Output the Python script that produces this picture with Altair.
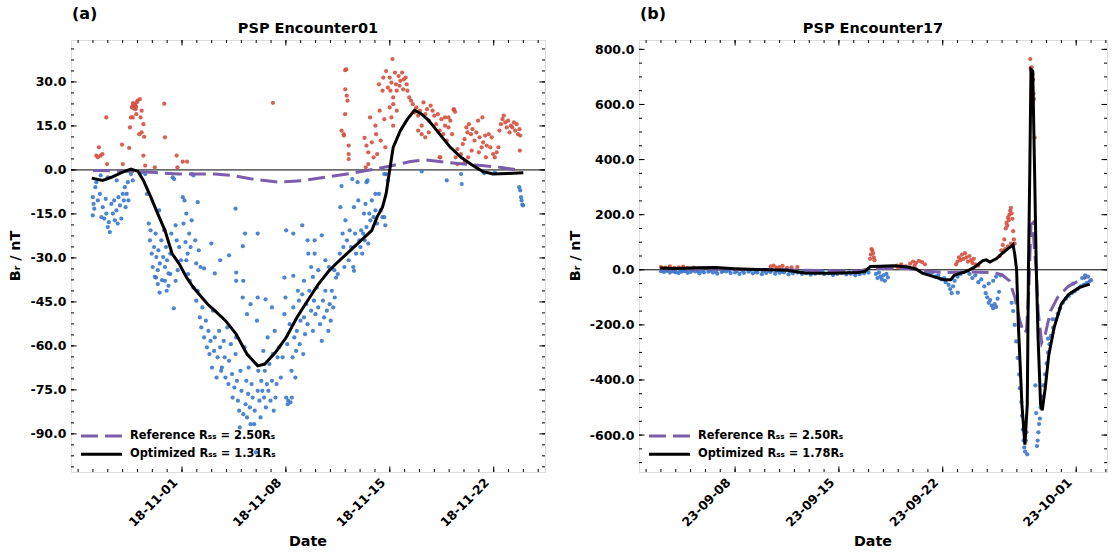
import altair as alt
import numpy as np
import pandas as pd

# ---------------- panel (a): PSP Encounter01, days relative to 2018-11-01 ----------------
A_BASE = "2018-11-01"
a_pos_day = [-5.77, -5.6, -5.48, -5.67, -5.36, -5.1, -5.05,
             -4.04, -3.99, -3.56, -3.51, -3.44, -3.37, -3.27, -3.2, -3.13, -3.08, -2.99, -2.84, -2.79,
             -2.72, -2.72, -2.88, -2.6, -2.55, -2.6, -2.48, -3.32, -3.35, -3.3, -3.25, -3.15, -3.1, -3.05,
             -1.83, -1.2, -1.15, -0.36, -0.31, 0.05, 0.34, 6.13,
             10.75, 10.91, 11.0, 11.06, 11.0, 11.1, 11.15, 10.99, 11.23, 11.23, 11.23, 10.9,
             12.3, 12.43, 12.55, 12.67, 12.79, 12.91, 13.03, 13.08, 13.15, 13.27, 13.32, 13.39, 13.51,
             13.56, 13.63, 13.7, 13.75, 12.38, 12.55,
             13.87, 13.99, 14.04, 14.11, 14.18, 14.23, 14.35, 14.42, 14.47, 14.59, 14.66, 14.71, 14.83,
             14.9, 14.95, 15.07, 15.14, 15.19, 15.31, 15.43, 14.23, 14.47, 13.99, 14.11, 14.23,
             15.55, 15.67, 15.79, 15.91, 16.03, 16.15, 16.27, 16.39, 16.51, 16.63, 16.75, 16.88, 17.0,
             17.12, 17.24, 17.36, 17.48, 17.6, 17.72, 17.84, 17.96, 18.08, 18.2, 18.32, 18.44, 18.56,
             17.4, 16.15, 15.91, 16.39, 16.63, 17.72, 17.96,
             18.8, 18.92, 19.04, 19.16, 19.23, 19.33, 19.47, 19.57, 19.71, 19.83, 19.95, 20.05, 20.19,
             20.29, 20.43, 20.53, 20.67, 20.77, 20.87, 20.96, 21.08, 21.2, 21.32, 21.39, 21.49, 21.59,
             21.68, 21.78, 21.88, 21.97, 22.07, 22.16, 22.26, 22.36, 22.45, 22.55, 22.64, 22.74, 22.79,
             22.76, 19.52, 20.0, 20.48, 19.28, 18.56, 19.04, 20.24, 17.36, 18.3, 18.4]
a_pos_val = [4.9, 7.7, 4.9, 4.3, 5.4, 17.9, 2.0,
             8.6, 2.0, 7.5, 14.5, 17.9, 21.3, 22.4, 21.8, 20.7, 19.0, 23.6, 24.1, 17.9,
             20.2, 12.8, 12.2, 15.6, 11.3, 4.9, 1.5, 17.9, 21.5, 22.8, 21.0, 22.0, 21.5, 23.0,
             0.9, 22.6, 11.1, 4.9, 0.9, 2.8, 2.8, 22.9,
             13.4, 11.7, 34.0, 34.3, 27.5, 25.3, 23.6, 19.0, 8.3, 5.4, 3.7, 12.2,
             10.9, 8.3, 6.0, 17.9, 9.4, 4.3, 15.1, 12.2, 5.4, 29.2, 20.2, 10.0, 27.0,
             31.5, 17.3, 7.7, 33.7, 0.9, 2.0,
             28.1, 31.5, 27.0, 29.8, 37.8, 24.7, 33.2, 29.2, 27.0, 32.0, 28.7, 30.4, 33.2,
             27.5, 30.9, 31.5, 29.2, 27.0, 24.7, 23.6, 22.4, 20.2, 21.3, 17.9, 15.1,
             22.4, 19.6, 21.3, 18.5, 20.2, 15.1, 23.0, 19.0, 20.7, 16.8, 21.9, 20.2, 18.5,
             15.6, 19.0, 13.4, 17.3, 12.2, 17.9, 10.0, 14.5, 16.8, 12.2, 20.7, 4.3, 7.1,
             4.3, 12.2, 13.4, 11.1, 12.8, 15.1, 17.9,
             5.4, 8.8, 10.5, 14.5, 12.8, 15.6, 12.2, 13.9, 10.0, 12.8, 16.8, 11.1, 7.7,
             9.4, 11.7, 8.3, 12.2, 7.7, 11.1, 5.4, 4.3, 6.0, 7.7, 13.4, 15.6, 17.3,
             18.5, 16.2, 14.5, 16.8, 12.8, 15.1, 14.5, 16.2, 13.4, 15.6, 12.2, 13.9, 11.7,
             6.6, 6.6, 6.0, 4.3, 4.3, 2.0, 2.6, 17.9, 4.3, 20.5, 19.8]
a_neg_day = [-6.01, -5.96, -5.91, -6.01, -5.84, -5.77, -5.67, -5.53, -5.43, -5.34, -5.24, -5.14, -5.1,
             -5.0, -4.93, -4.86, -4.76, -4.66, -4.57, -4.52, -4.42, -4.33, -4.28, -4.18, -4.09, -3.99,
             -3.92, -3.85, -3.8, -3.73, -3.65, -3.61, -5.0, -5.48, -4.4, -3.44, -3.32, -2.72, -2.48,
             -2.36, -2.24, -2.16, -2.12, -2.04, -1.97, -1.88, -1.83, -1.78, -1.73, -1.63, -1.59, -1.54,
             -1.49, -1.39, -1.35, -1.27, -1.2, -1.15, -1.08, -1.01, -0.91, -0.79, -0.72, -0.63, -0.53,
             -0.43, -0.36, -0.29, -0.19, -0.07, 0.05, 0.1, 0.17, 0.24, 0.29, 0.38, 0.48, 0.58, 0.67,
             0.77, 0.89, 0.96, 1.06, 1.13, 1.25, 1.49, 1.97, 2.57, 3.17, 3.61, 2.21, 0.29, 0.65,
             -1.75, -1.63, -1.51, -1.15, -1.03, -0.91, -0.55, -0.43, -0.79,
             0.41, 0.53, 0.77, 0.96, 1.06, 1.2, 1.3, 1.37, 1.49, 1.61, 1.68, 1.78, 1.85, 1.92, 2.02,
             2.09, 2.16, 2.21, 2.33, 2.4, 2.5, 2.57, 2.64, 2.69, 2.81, 2.88, 2.93, 3.05, 3.13, 3.17,
             3.29, 3.37, 3.41, 3.53, 3.61, 3.65, 3.7, 3.77, 3.85, 3.89, 3.94, 4.01, 4.09, 4.13, 4.21,
             4.28, 4.33, 4.38, 4.45, 4.49, 4.57, 4.62, 4.69, 4.76, 4.86, 4.9, 4.98, 5.05, 5.1, 5.14,
             5.22, 5.29, 5.34, 5.41, 5.48, 5.53, 5.58, 5.65, 5.72, 5.77, 5.82, 5.89, 5.96, 6.06, 6.13,
             6.18, 6.25, 6.3, 6.37, 6.44, 6.54, 4.62, 4.38, 5.1, 5.63, 6.06, 3.65, 4.13,
             6.66, 6.78, 6.9, 6.97, 7.02, 7.09, 7.16, 7.26, 7.31, 7.38, 7.45, 7.5, 7.57, 7.64, 7.69,
             7.74, 7.81, 7.88, 7.93, 7.98, 8.1, 8.17, 8.22, 8.29, 8.37, 8.46, 8.58, 8.7, 8.82, 8.89,
             8.99, 9.09, 9.18, 9.3, 9.42, 9.5, 9.57, 9.66, 9.76, 9.86, 9.95, 10.02, 10.1, 10.19, 10.29,
             10.38, 10.5, 11.59, 6.9, 7.5, 8.22, 7.12, 7.4,
             7.02, 7.5, 8.1, 8.46, 8.51, 8.7, 8.82, 8.94, 9.18, 9.66, 9.9, 10.26, 10.63, 10.67, 10.75,
             10.82, 10.87, 10.94, 11.01, 11.11, 11.23, 11.3, 11.39, 11.47, 11.54, 11.59, 11.66, 11.73,
             11.83, 11.88, 11.95, 12.02, 12.07, 12.14, 12.21, 12.26, 12.31, 12.36, 12.43, 12.5, 12.55,
             12.62, 12.69, 12.79, 12.91, 13.03, 13.15, 13.27, 13.39, 13.51, 13.63, 13.7, 13.75, 13.03,
             12.43, 9.42, 8.94, 16.15, 17.84, 18.8, 18.85, 20.36, 21.08, 22.72, 22.79, 22.84, 22.88,
             22.93, 22.98, 13.87, 13.63, 3.65, 4.25, 5.1, 4.1]
a_neg_val = [-9.3, -11.6, -13.2, -15.5, -5.9, -4.2, -10.4, -8.2, -16.1, -12.7, -16.6, -9.9, -14.9,
             -19.5, -17.8, -21.2, -11.6, -14.9, -10.4, -17.2, -13.8, -18.3, -9.3, -12.1, -16.6, -8.2,
             -10.4, -5.9, -12.7, -8.2, -4.2, -10.4, -2.5, -1.9, -3.6, -1.4, -3.6, -0.8, -1.4,
             -8.2, -18.3, -24.0, -20.6, -28.5, -33.1, -26.3, -36.5, -21.7, -29.7, -34.2, -27.4, -13.8,
             -31.9, -24.0, -37.6, -29.7, -20.6, -33.1, -26.3, -30.8, -35.3, -28.5, -21.7, -2.5, -3.1,
             -18.9, -24.0, -34.2, -26.3, -30.8, -9.3, -18.3, -10.4, -24.6, -30.8, -28.5, -21.7, -26.3, -1.4,
             -1.9, -24.0, -31.9, -11.0, -27.4, -33.1, -33.6, -25.1, -30.8, -29.1, -13.2, -35.3, -14.9, -17.2,
             -36.7, -38.9, -41.8, -37.8, -41.2, -39.5, -47.2, -37.8, -35.5,
             -35.5, -37.8, -40.1, -44.6, -41.2, -50.3, -53.7, -46.9, -57.1, -51.4, -60.5, -54.9, -62.8, -58.3, -67.4,
             -48.0, -61.7, -57.1, -70.8, -63.9, -54.9, -60.5, -68.5, -67.4, -58.3, -63.9, -70.8, -53.7, -73.0, -65.1,
             -59.4, -69.6, -77.6, -74.2, -62.8, -57.1, -71.9, -78.7, -82.1, -87.8, -68.5, -75.3, -43.5, -83.3, -60.5,
             -79.9, -71.9, -84.4, -76.4, -67.4, -81.0, -86.7, -73.0, -77.6, -86.7, -82.1, -96.3, -51.4, -75.3, -68.5,
             -78.7, -84.4, -71.9, -75.3, -61.7, -77.6, -68.5, -81.0, -73.0, -57.1, -75.3, -66.2, -78.7, -71.9, -62.8,
             -82.1, -54.9, -77.6, -73.0, -63.9, -60.5, -45.8, -49.2, -43.5, -44.1, -46.9, -37.8, -37.8,
             -70.8, -63.9, -49.2, -43.5, -77.6, -59.4, -78.7, -52.6, -79.3, -68.5, -63.9, -46.9, -57.1, -70.8, -61.7,
             -54.9, -41.2, -44.6, -59.4, -51.4, -42.4, -62.8, -50.3, -56.0, -45.8, -52.6, -41.2, -48.0, -54.9, -44.6,
             -49.2, -40.1, -46.9, -52.6, -58.3, -44.6, -50.3, -41.2, -48.0, -54.9, -45.8, -51.4, -41.2, -46.9, -43.5,
             -36.7, -35.5, -34.4, -36.7, -36.1, -37.8, -79.9, -77.6,
             -20.6, -21.7, -18.9, -24.0, -28.5, -33.1, -36.5, -28.5, -34.2, -30.8, -33.1, -34.2, -28.5, -12.7, -5.5,
             -21.7, -26.3, -33.1, -17.2, -24.0, -30.8, -20.6, -26.3, -3.1, -33.1, -12.7, -21.7, -28.5,
             -4.2, -10.4, -24.0, -26.3, -20.6, -28.5, -21.7, -14.9, -24.0, -11.6, -19.5, -3.6, -25.1,
             -14.9, -17.2, -10.4, -16.1, -13.8, -18.3, -8.2, -13.8, -16.1, -16.1, -18.9, -1.4, -8.2,
             -4.2, -22.3, -24.0, -0.5, -3.6, -1.4, -4.8, -1.1, -0.9, -5.9, -7.0, -9.3, -10.4,
             -11.8, -12.1, -3.6, -1.4, -35.0, -21.7, -21.7, -26.0]
a_ref_day = [-6.0, -4.0, -2.1, -0.2, 2.2, 3.4, 4.6, 6.5, 8.2, 9.9, 11.6, 13.0, 14.2, 15.4, 16.4,
             17.8, 19.0, 20.2, 21.4, 22.6, 22.9]
a_ref_val = [-0.2, -0.4, -0.8, -1.4, -1.4, -1.9, -3.0, -4.2, -3.6, -2.3, -1.0, 0.3, 1.5, 2.9, 3.4,
             2.6, 2.0, 1.5, 0.9, 0.0, -0.2]
a_opt_day = [-6.08, -5.36, -4.76, -4.04, -3.44, -2.96, -2.6, -2.1, -1.63, -1.15, -0.67, -0.19, 0.29,
             0.77, 1.73, 2.21, 2.93, 3.65, 4.38, 5.1, 5.58, 6.3, 7.02, 7.74, 8.46, 9.18, 9.9, 10.38,
             11.35, 12.07, 12.79, 13.15, 13.51, 13.75, 13.99, 14.23, 14.71, 15.19, 15.67, 16.15, 16.63,
             17.36, 18.08, 18.8, 19.52, 20.24, 20.96, 21.92, 23.0]
a_opt_val = [-2.8, -3.6, -2.5, -0.8, 0.3, -0.5, -3.6, -9.3, -15.0, -20.6, -28.5, -32.0, -36.5,
             -40.1, -45.8, -48.0, -51.4, -56.0, -62.8, -66.8, -66.2, -62.2, -57.1, -50.3, -44.6, -39.0,
             -34.4, -32.0, -27.4, -24.0, -20.6, -16.0, -12.7, -8.2, -0.2, 7.7, 13.4, 17.3, 20.4, 19.0,
             16.8, 12.2, 7.7, 4.3, 1.8, -0.5, -1.4, -1.2, -1.0]

# ---------------- panel (b): PSP Encounter17, days relative to 2023-09-01 ----------------
B_BASE = "2023-09-01"
b_pos_day = [2.0, 2.3, 2.6, 2.9, 3.2, 3.5, 3.8, 4.2, 4.6, 9.4, 9.6, 9.8, 10.0, 10.2, 10.5, 10.8, 11.2,
             16.1, 16.15, 16.2, 16.25, 16.3, 16.35, 16.4,
             17.6, 17.9, 18.0, 18.2, 18.5, 18.8, 19.0, 19.1, 19.2, 19.4, 19.6, 19.8,
             21.9, 22.0, 22.1, 22.2, 22.3, 22.4, 22.5, 22.6, 22.7, 22.8, 22.9, 23.0, 23.1, 23.2, 23.4,
             24.85, 24.95, 25.05, 25.15, 25.25, 25.3, 25.35, 25.4, 25.45, 25.5, 25.55, 25.6, 25.65,
             25.7, 25.75, 25.8, 25.85, 25.2, 25.4, 25.6,
             26.9, 26.93, 26.97, 27.0, 27.03, 27.05, 27.1, 27.12, 27.15, 27.2]
b_pos_val = [10, 8, 12, 7, 9, 11, 6, 8, 5, 12, 15, 8, 10, 14, 7, 9, 10,
             40, 55, 75, 70, 60, 45, 35,
             10, 15, 8, 20, 12, 22, 30, 15, 25, 32, 28, 20,
             20, 30, 45, 35, 55, 40, 60, 45, 30, 50, 35, 25, 40, 20, 15,
             50, 70, 90, 110, 150, 170, 160, 190, 180, 200, 215, 225, 205,
             185, 140, 110, 95, 75, 85, 95,
             765, 730, 725, 735, 650, 710, 690, 640, 620, 480]
b_neg_day = [2.0, 2.2, 2.4, 2.6, 2.8, 3.0, 3.2, 3.4, 3.6, 3.8, 4.0, 4.3, 4.6, 4.9, 5.2, 5.5, 5.8,
             6.1, 6.4, 6.7, 7.0, 7.3, 7.6, 7.9, 8.2, 8.5, 8.8, 9.1, 9.4, 9.7, 10.0, 10.3, 10.6, 10.9,
             11.2, 11.5, 11.8, 12.1, 12.4, 12.7, 13.0, 13.3, 13.6, 13.9, 14.2, 14.5, 14.8, 15.1, 15.4,
             15.7, 16.0,
             2.1, 2.5, 2.9, 3.3, 3.7, 4.1, 4.5, 4.8, 5.3, 5.7, 6.2, 6.6, 7.1, 7.5, 8.0, 8.4, 8.9, 9.3,
             9.8, 10.2, 10.7, 11.1, 11.6, 12.0, 12.5, 12.9, 13.4, 13.8, 14.3, 14.7, 15.2, 15.6,
             16.5, 16.6, 16.7, 16.8, 16.9, 17.0, 17.1, 17.2, 17.3,
             19.9, 20.1, 20.3, 20.5, 20.7, 20.9, 21.1, 21.2, 21.4, 21.5, 21.6, 21.7, 21.8, 22.0, 22.2, 22.02,
             22.8, 23.0, 23.2, 23.4, 23.6, 23.8, 23.9, 24.0, 24.1, 24.2, 24.3, 24.4, 24.5, 24.6, 24.7,
             24.8, 24.1, 24.4, 24.6, 24.9,
             25.65, 25.75, 25.85, 25.95, 26.05, 26.15, 26.2, 26.3, 26.35, 26.4, 26.45, 26.5, 26.55,
             26.7, 26.6, 26.65,
             27.25, 27.35, 27.4, 27.45, 27.5, 27.55, 27.6, 27.3,
             27.7, 27.8, 27.9, 28.0, 28.1, 28.2, 28.3, 28.45, 28.6, 28.75, 28.9, 29.1, 29.3, 29.5, 29.7,
             29.9, 30.1, 30.3, 30.5, 30.7, 30.9, 31.0, 30.4, 30.6, 30.8, 29.8, 28.4, 28.1]
b_neg_val = [-5, -8, -4, -10, -6, -9, -12, -7, -5, -11, -8, -6, -13, -9, -7, -10, -14,
             -8, -6, -12, -9, -15, -11, -7, -13, -10, -16, -12, -8, -14, -11, -9, -17, -13,
             -10, -15, -12, -18, -14, -11, -16, -13, -19, -15, -12, -17, -14, -20, -16,
             -13, -10,
             -3, -2, -6, -4, -3, -2, -5, -4, -3, -6, -4, -3, -5, -4, -3, -6, -5, -4,
             -3, -7, -5, -4, -6, -5, -8, -6, -5, -7, -6, -9, -7, -5,
             -15, -30, -10, -25, -35, -20, -40, -15, -28,
             -8, -15, -10, -25, -20, -35, -30, -45, -55, -70, -85, -60, -40, -25, -15, -83,
             -15, -30, -20, -45, -35, -60, -85, -100, -120, -110, -130, -140, -125, -135, -105,
             -80, -50, -40, -25, -20,
             -120, -150, -200, -260, -320, -380, -430, -480, -530, -580, -620, -645, -660,
             -670, -620, -590,
             -420, -640, -620, -590, -560, -540, -500, -520,
             -460, -420, -380, -340, -300, -270, -240, -210, -180, -160, -140, -120, -105, -95, -85,
             -78, -70, -60, -55, -48, -42, -38, -30, -20, -25, -50, -180, -250]
b_ref_day = [1.95, 5.0, 10.0, 15.3, 16.1, 18.6, 19.6, 21.0, 22.7, 24.4, 25.0, 25.5, 25.86, 26.2,
             26.46, 26.65, 26.8, 26.95, 27.07, 27.19, 27.31, 27.43, 27.67, 27.91, 28.27, 28.75, 29.47,
             30.19, 30.67]
b_ref_val = [3, 2, 0, -5, 5, 5, -3, -10, -8, -10, -18, -40, -100, -185, -230, -220, -80, 164, 170,
             67, 0, -150, -265, -235, -150, -100, -60, -40, -28]
b_opt_day = [1.95, 3.0, 4.5, 5.7, 7.0, 8.5, 9.3, 10.5, 11.7, 13.5, 15.3, 15.77, 16.13, 16.8, 17.7,
             18.65, 19.2, 19.62, 20.34, 21.06, 21.54, 21.78, 22.2, 22.5, 22.74, 23.22, 23.7, 23.94,
             24.18, 24.66, 25.02, 25.38, 25.62, 25.74, 25.86, 25.98, 26.1, 26.34, 26.54, 26.7, 26.78,
             26.88, 26.95, 27.07, 27.19, 27.31, 27.43, 27.6, 27.71, 27.91, 28.15, 28.51, 28.99, 29.47,
             30.19, 30.91]
b_opt_val = [6, 5, 7, 8, 4, 1, 0, -2, -12, -13, -10, -6, 12, 13, 15, 10, 3, -12, -24, -36, -36,
             -20, -12, -8, -2, 12, 33, 36, 28, 42, 60, 76, 85, 91, 55, 0, -200, -490, -635, -490, 0,
             400, 727, 720, 370, 0, -248, -490, -510, -430, -310, -210, -125, -90, -65, -52]

# axis ticks
a_y_major = [-90, -75, -60, -45, -30, -15, 0, 15, 30]
b_y_major = [-600, -400, -200, 0, 200, 400, 600, 800]
a_x_major = [(2018, 11, 1), (2018, 11, 8), (2018, 11, 15), (2018, 11, 22)]
b_x_major = [(2023, 9, 8), (2023, 9, 15), (2023, 9, 22), (2023, 10, 1)]

RED = "#d5503f"
BLUE = "#3a78cc"
PURPLE = "#7b5eab"
H = 432
FONT = "DejaVu Sans"


def to_dt(base, days):
    return pd.Timestamp(base) + pd.to_timedelta(np.asarray(days, dtype=float), unit="D")


def dtobj(y, m, d, hh=0, mm=0):
    return alt.DateTime(year=y, month=m, date=d, hours=hh, minutes=mm)


def one():
    return pd.DataFrame({"a": [0]})


def panel(base, pos_d, pos_v, neg_d, neg_v, ref_d, ref_v, opt_d, opt_v, xdom, ydom,
          xmaj, xmin_range, ymaj, ystep_minor, W, title, tag, opt_lbl, ytitle_x):
    obs = pd.concat([
        pd.DataFrame({"t": to_dt(base, neg_d), "v": neg_v, "s": "neg"}),
        pd.DataFrame({"t": to_dt(base, pos_d), "v": pos_v, "s": "pos"}),
    ])
    ref = pd.DataFrame({"t": to_dt(base, ref_d), "v": ref_v})
    opt = pd.DataFrame({"t": to_dt(base, opt_d), "v": opt_v})
    xs = alt.Scale(domain=xdom)
    ys = alt.Scale(domain=ydom, nice=False, zero=False)

    xaxis = alt.Axis(values=[dtobj(*d) for d in xmaj], format="%y-%m-%d", labelAngle=-45,
                     labelAlign="right", labelBaseline="middle", labelPadding=8, labelOffset=-7,
                     labelOverlap=False, title=None, ticks=False, domain=False, grid=False,
                     labelFont=FONT, labelFontWeight="bold", labelFontSize=12.5, labelColor="black")
    yaxis = alt.Axis(values=ymaj, labelExpr="replace(format(datum.value, '.1f'), '\u2212', '-')",
                     labelPadding=5, labelOverlap=False, title=None, ticks=False, domain=False,
                     grid=False, labelFont=FONT, labelFontWeight="bold", labelFontSize=12.5,
                     labelColor="black")

    def X(field="t:T"):
        return alt.X(field, scale=xs, axis=xaxis)

    def Y(field="v:Q"):
        return alt.Y(field, scale=ys, axis=yaxis)

    zero = alt.Chart(pd.DataFrame({"v": [0]})).mark_rule(color="black", strokeWidth=1).encode(y=Y())
    pts = alt.Chart(obs).mark_circle(size=18, opacity=0.9).encode(
        x=X(), y=Y(),
        color=alt.Color("s:N", scale=alt.Scale(domain=["pos", "neg"], range=[RED, BLUE]), legend=None),
    )
    rline = alt.Chart(ref).mark_line(color=PURPLE, strokeWidth=3, strokeDash=[17, 7]).encode(x=X(), y=Y())
    oline = alt.Chart(opt).mark_line(color="black", strokeWidth=3).encode(x=X(), y=Y())

    # inward ticks on all four sides
    maj_t = pd.DataFrame({"t": [pd.Timestamp(year=y, month=m, day=d) for (y, m, d) in xmaj]})
    min_t = pd.DataFrame({"t": pd.date_range(xmin_range[0], xmin_range[1], freq="D")})
    ylo = np.ceil(ydom[0] / ystep_minor) * ystep_minor
    min_y = pd.DataFrame({"v": np.arange(ylo, ydom[1], ystep_minor)})
    maj_y = pd.DataFrame({"v": ymaj})
    ticks = []
    for df, ln in ((maj_t, 5.5), (min_t, 3)):
        for y0, y1 in ((H, H - ln), (0, ln)):
            ticks.append(alt.Chart(df).mark_rule(color="black", strokeWidth=1).encode(
                x=X(), y=alt.value(y0), y2=alt.value(y1)))
    for df, ln in ((maj_y, 5.5), (min_y, 3)):
        for x0, x1 in ((0, ln), (W, W - ln)):
            ticks.append(alt.Chart(df).mark_rule(color="black", strokeWidth=1).encode(
                y=Y(), x=alt.value(x0), x2=alt.value(x1)))

    def txt(s, x, y, size, align="left", angle=0, baseline="middle"):
        return alt.Chart(one()).mark_text(font=FONT, fontWeight="bold", fontSize=size, align=align,
                                          baseline=baseline, angle=angle, color="black").encode(
            x=alt.value(x), y=alt.value(y), text=alt.value(s))

    leg = [
        alt.Chart(one()).mark_rule(color=PURPLE, strokeWidth=3, strokeDash=[17, 7]).encode(
            x=alt.value(10), x2=alt.value(51), y=alt.value(396)),
        alt.Chart(one()).mark_rule(color="black", strokeWidth=3).encode(
            x=alt.value(10), x2=alt.value(51), y=alt.value(414.3)),
        txt("Reference R\u209b\u209b = 2.50R\u209b", 59, 396, 11.4),
        txt("Optimized R\u209b\u209b = " + opt_lbl + "R\u209b", 59, 414.3, 11.4),
        txt(title, W / 2, -7, 14.5, align="center", baseline="alphabetic"),
        txt(tag, 1, -21, 16, baseline="alphabetic"),
        txt("Date", W / 2, 502, 14.3, align="center"),
        txt("B\u1d63 / nT", ytitle_x, H / 2, 14.3, align="center", angle=270),
    ]
    return alt.layer(zero, pts, rline, oline, *ticks, *leg).properties(width=W, height=H)


left = panel(A_BASE, a_pos_day, a_pos_val, a_neg_day, a_neg_val, a_ref_day, a_ref_val,
             a_opt_day, a_opt_val,
             [dtobj(2018, 10, 24, 12, 30), dtobj(2018, 11, 25, 11, 0)], [-103, 44.3],
             a_x_major, ("2018-10-25", "2018-11-25"), a_y_major, 3.75, 474,
             "PSP Encounter01", "(a)", "1.31", -54.7)
right = panel(B_BASE, b_pos_day, b_pos_val, b_neg_day, b_neg_val, b_ref_day, b_ref_val,
              b_opt_day, b_opt_val,
              [dtobj(2023, 9, 1, 12, 30), dtobj(2023, 10, 3, 1, 50)], [-734, 834],
              b_x_major, ("2023-09-02", "2023-10-03"), b_y_major, 50, 468,
              "PSP Encounter17", "(b)", "1.78", -63)

chart = alt.hconcat(left, right, spacing=94, bounds="flush").properties(
    padding={"left": 8, "top": 5, "right": 0, "bottom": 0}
).configure_view(stroke="black", strokeWidth=1.3).configure(background="white")

chart.save("out.html", embed_options={"renderer": "svg", "actions": False})
